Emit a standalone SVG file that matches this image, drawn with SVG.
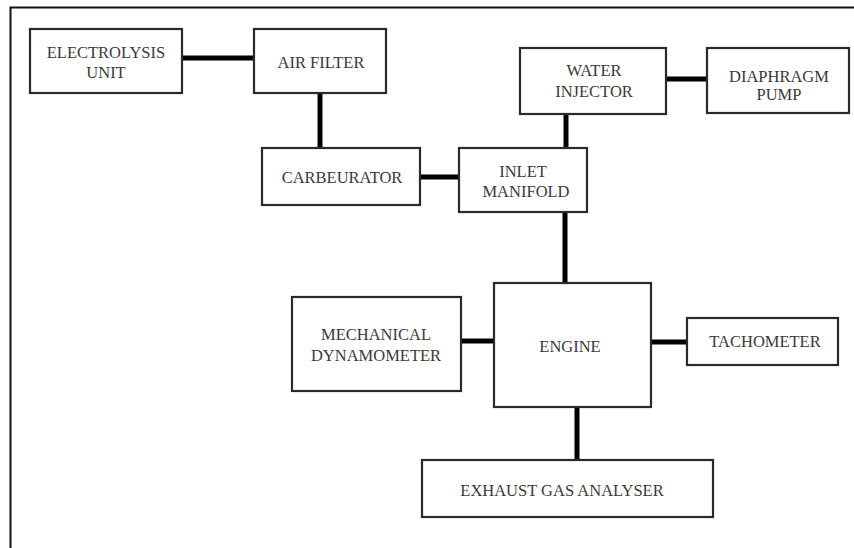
<svg xmlns="http://www.w3.org/2000/svg" width="854" height="548" viewBox="0 0 854 548">
<style>
.box{fill:#fff;stroke:#2a2a2a;stroke-width:2.2}
.lbl{font-family:"Liberation Serif","Times New Roman",serif;font-size:16.5px;fill:#3a3a3a;text-anchor:middle}
.con{stroke:#000;stroke-width:5;fill:none}
.frame{stroke:#111;stroke-width:2;fill:none}
</style>
<rect width="854" height="548" fill="#fff"/>
<path class="frame" d="M854 7.5H10.5V548"/>
<g id="connectors">
<line class="con" x1="182" y1="58" x2="254" y2="58"/>
<line class="con" x1="320" y1="93" x2="320" y2="148"/>
<line class="con" x1="420" y1="177" x2="459" y2="177"/>
<line class="con" x1="666" y1="79" x2="707" y2="79"/>
<line class="con" x1="566" y1="114" x2="566" y2="148"/>
<line class="con" x1="565" y1="212" x2="565" y2="283"/>
<line class="con" x1="461" y1="341" x2="494" y2="341"/>
<line class="con" x1="651" y1="342" x2="687" y2="342"/>
<line class="con" x1="577" y1="407" x2="577" y2="460"/>
</g>
<g id="electrolysis">
<rect class="box" x="30" y="29" width="152" height="64"/>
<text class="lbl" x="106" y="58">ELECTROLYSIS</text>
<text class="lbl" x="106" y="78">UNIT</text>
</g>
<g id="airfilter">
<rect class="box" x="254" y="29" width="132" height="64"/>
<text class="lbl" x="321" y="68">AIR FILTER</text>
</g>
<g id="carbeurator">
<rect class="box" x="262" y="148" width="158" height="57"/>
<text class="lbl" x="342" y="183">CARBEURATOR</text>
</g>
<g id="waterinjector">
<rect class="box" x="520" y="48" width="146" height="66"/>
<text class="lbl" x="594" y="76">WATER</text>
<text class="lbl" x="594" y="97">INJECTOR</text>
</g>
<g id="diaphragm">
<rect class="box" x="707" y="48" width="142" height="65"/>
<text class="lbl" x="779" y="82">DIAPHRAGM</text>
<text class="lbl" x="779" y="100">PUMP</text>
</g>
<g id="inlet">
<rect class="box" x="459" y="148" width="128" height="64"/>
<text class="lbl" x="523" y="177">INLET</text>
<text class="lbl" x="526" y="197">MANIFOLD</text>
</g>
<g id="mechdyn">
<rect class="box" x="292" y="297" width="169" height="94"/>
<text class="lbl" x="376" y="340">MECHANICAL</text>
<text class="lbl" x="376" y="361">DYNAMOMETER</text>
</g>
<g id="engine">
<rect class="box" x="494" y="283" width="157" height="124"/>
<text class="lbl" x="570" y="352">ENGINE</text>
</g>
<g id="tachometer">
<rect class="box" x="687" y="318" width="151" height="47"/>
<text class="lbl" x="765" y="347">TACHOMETER</text>
</g>
<g id="exhaust">
<rect class="box" x="422" y="460" width="291" height="57"/>
<text class="lbl" x="562" y="496">EXHAUST GAS ANALYSER</text>
</g>
</svg>
